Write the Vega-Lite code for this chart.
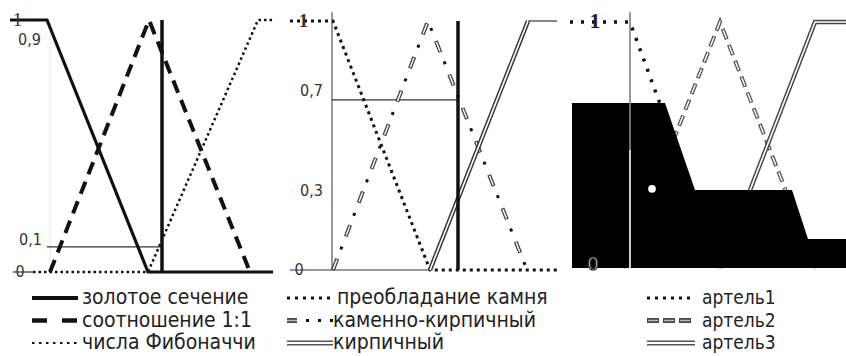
{
"$schema": "https://vega.github.io/schema/vega-lite/v6.json",
"padding": 0,
"autosize": {"type": "pad"},
"spacing": 0,
"config": {"view": {"stroke": null}, "concat": {"spacing": 0}},
"datasets": {
 "curves": [
  {"s": "золотое сечение", "x": 1.0, "y": 1},
  {"s": "золотое сечение", "x": 4.7, "y": 1},
  {"s": "золотое сечение", "x": 14.8, "y": 0},
  {"s": "золотое сечение", "x": 27.3, "y": 0},
  {"s": "соотношение 1:1", "x": 5.0, "y": 0},
  {"s": "соотношение 1:1", "x": 14.9, "y": 1},
  {"s": "соотношение 1:1", "x": 25.0, "y": 0},
  {"s": "числа Фибоначчи", "x": 3.3, "y": 0},
  {"s": "числа Фибоначчи", "x": 14.8, "y": 0},
  {"s": "числа Фибоначчи", "x": 25.8, "y": 1},
  {"s": "числа Фибоначчи", "x": 27.3, "y": 1},
  {"s": "преобладание камня", "x": 1.0, "y": 1},
  {"s": "преобладание камня", "x": 5.3, "y": 1},
  {"s": "преобладание камня", "x": 15.0, "y": 0},
  {"s": "преобладание камня", "x": 27.7, "y": 0},
  {"s": "каменно-кирпичный", "x": 5.3, "y": 0},
  {"s": "каменно-кирпичный", "x": 14.8, "y": 1},
  {"s": "каменно-кирпичный", "x": 24.7, "y": 0},
  {"s": "кирпичный", "x": 15.0, "y": 0},
  {"s": "кирпичный", "x": 24.8, "y": 1},
  {"s": "артель1", "x": 1.0, "y": 1},
  {"s": "артель1", "x": 7.0, "y": 1},
  {"s": "артель1", "x": 16.0, "y": 0},
  {"s": "артель2", "x": 6.3, "y": 0},
  {"s": "артель2", "x": 16.0, "y": 1},
  {"s": "артель2", "x": 25.6, "y": 0},
  {"s": "артель3", "x": 16.0, "y": 0},
  {"s": "артель3", "x": 25.5, "y": 1},
  {"s": "артель3", "x": 28.6, "y": 1},
  {"s": "вывод", "x": 1.2, "y": 0.671},
  {"s": "вывод", "x": 10.5, "y": 0.671},
  {"s": "вывод", "x": 13.5, "y": 0.317},
  {"s": "вывод", "x": 23.2, "y": 0.317},
  {"s": "вывод", "x": 24.8, "y": 0.118},
  {"s": "вывод", "x": 28.6, "y": 0.118}
 ],
 "guides": [
  {"panel": 1, "g": "faint", "x": 5.0, "x2": 5.0, "y": 0, "y2": 1.0},
  {"panel": 1, "g": "thin", "x": 4.7, "x2": 16.2, "y": 0.1, "y2": 0.1},
  {"panel": 1, "g": "thin", "x": 1.3, "x2": 3.3, "y": 0, "y2": 0},
  {"panel": 1, "g": "thick", "x": 16.2, "x2": 16.2, "y": 0, "y2": 1.0},
  {"panel": 2, "g": "axis", "x": 5.2, "x2": 5.2, "y": 0, "y2": 1.035},
  {"panel": 2, "g": "thin", "x": 5.2, "x2": 17.8, "y": 0.683, "y2": 0.683},
  {"panel": 2, "g": "thin", "x": 1.0, "x2": 15.0, "y": 0, "y2": 0},
  {"panel": 2, "g": "thin", "x": 24.8, "x2": 27.7, "y": 1, "y2": 1},
  {"panel": 2, "g": "thick", "x": 17.8, "x2": 17.8, "y": 0, "y2": 1.0},
  {"panel": 3, "g": "axis", "x": 7.0, "x2": 7.0, "y": 0, "y2": 1.04},
  {"panel": 3, "g": "white", "x": 7.0, "x2": 7.0, "y": 0, "y2": 0.48},
  {"panel": 3, "g": "gray", "x": 7.0, "x2": 7.0, "y": 0.48, "y2": 0.671}
 ],
 "labels": [
  {"panel": 1, "k": "one", "t": "1", "x": 1.75, "y": 1.0},
  {"panel": 1, "k": "num", "t": "0,9", "x": 2.95, "y": 0.92},
  {"panel": 1, "k": "num", "t": "0,1", "x": 3.05, "y": 0.127},
  {"panel": 1, "k": "num", "t": "0", "x": 2.0, "y": 0.0},
  {"panel": 2, "k": "one", "t": "1", "x": 2.35, "y": 1.0},
  {"panel": 2, "k": "num", "t": "0,7", "x": 3.15, "y": 0.72},
  {"panel": 2, "k": "num", "t": "0,3", "x": 3.15, "y": 0.317},
  {"panel": 2, "k": "num", "t": "0", "x": 1.9, "y": 0.0},
  {"panel": 3, "k": "one", "t": "1", "x": 3.5, "y": 1.0},
  {"panel": 3, "k": "zero", "t": "0", "x": 3.3, "y": 0.012}
 ],
 "dots": [
  {"panel": 3, "x": 9.2, "y": 0.322}
 ],
 "legendSymbols": [
  {"s": "золотое сечение", "part": "line", "row": 0, "x": 3.2, "x2": 7.8},
  {"s": "соотношение 1:1", "part": "line", "row": 1, "x": 3.2, "x2": 7.8},
  {"s": "числа Фибоначчи", "part": "line", "row": 2, "x": 3.2, "x2": 7.8},
  {"s": "преобладание камня", "part": "line", "row": 0, "x": 0.7, "x2": 5.2},
  {"s": "каменно-кирпичный", "part": "dash", "row": 1, "x": 0.7, "x2": 1.7},
  {"s": "каменно-кирпичный", "part": "dots", "row": 1, "x": 2.6, "x2": 5.3},
  {"s": "кирпичный", "part": "line", "row": 2, "x": 0.7, "x2": 5.3},
  {"s": "артель1", "part": "line", "row": 0, "x": 8.7, "x2": 13.3},
  {"s": "артель2", "part": "line", "row": 1, "x": 8.7, "x2": 13.5},
  {"s": "артель3", "part": "line", "row": 2, "x": 8.7, "x2": 13.5}
 ],
 "legendLabels": [
  {"panel": 1, "row": 0, "x": 8.2, "t": "золотое сечение"},
  {"panel": 1, "row": 1, "x": 8.2, "t": "соотношение 1:1"},
  {"panel": 1, "row": 2, "x": 8.2, "t": "числа Фибоначчи"},
  {"panel": 2, "row": 0, "x": 5.7, "t": "преобладание камня"},
  {"panel": 2, "row": 1, "x": 5.3, "t": "каменно-кирпичный"},
  {"panel": 2, "row": 2, "x": 5.3, "t": "кирпичный"},
  {"panel": 3, "row": 0, "x": 14.2, "t": "артель1"},
  {"panel": 3, "row": 1, "x": 14.2, "t": "артель2"},
  {"panel": 3, "row": 2, "x": 14.2, "t": "артель3"}
 ]
},
"vconcat": [
 {
  "spacing": 0,
  "bounds": "flush",
  "hconcat": [
   {
    "width": 280, "height": 280,
    "encoding": {
     "x": {"field": "x", "type": "quantitative", "scale": {"domain": [0, 28], "nice": false, "zero": false}, "axis": null},
     "y": {"field": "y", "type": "quantitative", "scale": {"domain": [-0.0317, 1.0794], "nice": false, "zero": false}, "axis": null}
    },
    "layer": [
     {"data": {"name": "guides"}, "transform": [{"filter": "datum.panel === 1 && datum.g === 'faint'"}], "mark": {"type": "rule", "stroke": "#e6e6e6", "strokeWidth": 1}, "encoding": {"x2": {"field": "x2"}, "y2": {"field": "y2"}}},
     {"data": {"name": "guides"}, "transform": [{"filter": "datum.panel === 1 && datum.g === 'thin'"}], "mark": {"type": "rule", "stroke": "#333", "strokeWidth": 1.2}, "encoding": {"x2": {"field": "x2"}, "y2": {"field": "y2"}}},
     {"data": {"name": "curves"}, "transform": [{"filter": "datum.s === 'числа Фибоначчи'"}], "mark": {"type": "line", "stroke": "#111", "strokeWidth": 2.5, "strokeDash": [2.5, 3]}},
     {"data": {"name": "curves"}, "transform": [{"filter": "datum.s === 'соотношение 1:1'"}], "mark": {"type": "line", "stroke": "#111", "strokeWidth": 4, "strokeDash": [13, 8]}},
     {"data": {"name": "curves"}, "transform": [{"filter": "datum.s === 'золотое сечение'"}], "mark": {"type": "line", "stroke": "#111", "strokeWidth": 3.2}},
     {"data": {"name": "guides"}, "transform": [{"filter": "datum.panel === 1 && datum.g === 'thick'"}], "mark": {"type": "rule", "stroke": "#111", "strokeWidth": 3.5}, "encoding": {"x2": {"field": "x2"}, "y2": {"field": "y2"}}},
     {"data": {"name": "labels"}, "transform": [{"filter": "datum.panel === 1 && datum.k === 'num'"}], "mark": {"type": "text", "font": "DejaVu Sans Condensed", "fontSize": 16, "fill": "#333", "align": "center", "baseline": "middle"}, "encoding": {"text": {"field": "t", "type": "nominal"}}},
     {"data": {"name": "labels"}, "transform": [{"filter": "datum.panel === 1 && datum.k === 'one'"}], "mark": {"type": "text", "font": "Liberation Serif", "fontSize": 19, "fill": "#333", "align": "center", "baseline": "middle"}, "encoding": {"text": {"field": "t", "type": "nominal"}}}
    ]
   },
   {
    "width": 280, "height": 280,
    "encoding": {
     "x": {"field": "x", "type": "quantitative", "scale": {"domain": [0, 28], "nice": false, "zero": false}, "axis": null},
     "y": {"field": "y", "type": "quantitative", "scale": {"domain": [-0.0402, 1.0843], "nice": false, "zero": false}, "axis": null}
    },
    "layer": [
     {"data": {"name": "guides"}, "transform": [{"filter": "datum.panel === 2 && datum.g === 'axis'"}], "mark": {"type": "rule", "stroke": "#555", "strokeWidth": 1.2}, "encoding": {"x2": {"field": "x2"}, "y2": {"field": "y2"}}},
     {"data": {"name": "guides"}, "transform": [{"filter": "datum.panel === 2 && datum.g === 'thin'"}], "mark": {"type": "rule", "stroke": "#333", "strokeWidth": 1.2}, "encoding": {"x2": {"field": "x2"}, "y2": {"field": "y2"}}},
     {"data": {"name": "curves"}, "transform": [{"filter": "datum.s === 'преобладание камня'"}], "mark": {"type": "line", "stroke": "#111", "strokeWidth": 3, "strokeDash": [3, 4]}},
     {"data": {"name": "curves"}, "transform": [{"filter": "datum.s === 'каменно-кирпичный'"}], "mark": {"type": "line", "stroke": "#444", "strokeWidth": 4, "strokeDash": [12, 24]}},
     {"data": {"name": "curves"}, "transform": [{"filter": "datum.s === 'каменно-кирпичный'"}], "mark": {"type": "line", "stroke": "#fff", "strokeWidth": 1.4, "strokeDash": [10, 26], "strokeDashOffset": -1}},
     {"data": {"name": "curves"}, "transform": [{"filter": "datum.s === 'каменно-кирпичный'"}], "mark": {"type": "line", "stroke": "#111", "strokeWidth": 3, "strokeDash": [3, 33], "strokeDashOffset": 14}},
     {"data": {"name": "curves"}, "transform": [{"filter": "datum.s === 'кирпичный'"}], "mark": {"type": "line", "stroke": "#333", "strokeWidth": 4.5}},
     {"data": {"name": "curves"}, "transform": [{"filter": "datum.s === 'кирпичный'"}], "mark": {"type": "line", "stroke": "#fff", "strokeWidth": 1.6}},
     {"data": {"name": "guides"}, "transform": [{"filter": "datum.panel === 2 && datum.g === 'thick'"}], "mark": {"type": "rule", "stroke": "#111", "strokeWidth": 3.5}, "encoding": {"x2": {"field": "x2"}, "y2": {"field": "y2"}}},
     {"data": {"name": "labels"}, "transform": [{"filter": "datum.panel === 2 && datum.k === 'num'"}], "mark": {"type": "text", "font": "DejaVu Sans Condensed", "fontSize": 16, "fill": "#333", "align": "center", "baseline": "middle"}, "encoding": {"text": {"field": "t", "type": "nominal"}}},
     {"data": {"name": "labels"}, "transform": [{"filter": "datum.panel === 2 && datum.k === 'one'"}], "mark": {"type": "text", "font": "Liberation Serif", "fontSize": 19, "fontWeight": "bold", "fill": "#333", "align": "center", "baseline": "middle"}, "encoding": {"text": {"field": "t", "type": "nominal"}}}
    ]
   },
   {
    "width": 286, "height": 280,
    "encoding": {
     "x": {"field": "x", "type": "quantitative", "scale": {"domain": [0, 28.6], "nice": false, "zero": false}, "axis": null},
     "y": {"field": "y", "type": "quantitative", "scale": {"domain": [-0.0488, 1.0894], "nice": false, "zero": false}, "axis": null}
    },
    "layer": [
     {"data": {"name": "guides"}, "transform": [{"filter": "datum.panel === 3 && datum.g === 'axis'"}], "mark": {"type": "rule", "stroke": "#555", "strokeWidth": 1.2}, "encoding": {"x2": {"field": "x2"}, "y2": {"field": "y2"}}},
     {"data": {"name": "curves"}, "transform": [{"filter": "datum.s === 'артель1'"}], "mark": {"type": "line", "stroke": "#111", "strokeWidth": 3.5, "strokeDash": [3, 8]}},
     {"data": {"name": "curves"}, "transform": [{"filter": "datum.s === 'артель2'"}], "mark": {"type": "line", "stroke": "#555", "strokeWidth": 4, "strokeDash": [11, 6]}},
     {"data": {"name": "curves"}, "transform": [{"filter": "datum.s === 'артель2'"}], "mark": {"type": "line", "stroke": "#fff", "strokeWidth": 1.4, "strokeDash": [9, 8], "strokeDashOffset": -1}},
     {"data": {"name": "curves"}, "transform": [{"filter": "datum.s === 'артель3'"}], "mark": {"type": "line", "stroke": "#444", "strokeWidth": 4.5}},
     {"data": {"name": "curves"}, "transform": [{"filter": "datum.s === 'артель3'"}], "mark": {"type": "line", "stroke": "#fff", "strokeWidth": 1.6}},
     {"data": {"name": "curves"}, "transform": [{"filter": "datum.s === 'вывод'"}], "mark": {"type": "area", "fill": "#000", "interpolate": "linear"}},
     {"data": {"name": "guides"}, "transform": [{"filter": "datum.panel === 3 && datum.g === 'white'"}], "mark": {"type": "rule", "stroke": "#fff", "strokeWidth": 1.6}, "encoding": {"x2": {"field": "x2"}, "y2": {"field": "y2"}}},
     {"data": {"name": "guides"}, "transform": [{"filter": "datum.panel === 3 && datum.g === 'gray'"}], "mark": {"type": "rule", "stroke": "#888", "strokeWidth": 1.6}, "encoding": {"x2": {"field": "x2"}, "y2": {"field": "y2"}}},
     {"data": {"name": "dots"}, "mark": {"type": "point", "filled": true, "fill": "#fff", "stroke": null, "size": 60, "shape": "circle", "opacity": 1}},
     {"data": {"name": "labels"}, "transform": [{"filter": "datum.panel === 3 && datum.k === 'one'"}], "mark": {"type": "text", "font": "Liberation Serif", "fontSize": 21, "fontWeight": "bold", "fill": "#222", "align": "center", "baseline": "middle"}, "encoding": {"text": {"field": "t", "type": "nominal"}}},
     {"data": {"name": "labels"}, "transform": [{"filter": "datum.panel === 3 && datum.k === 'zero'"}], "mark": {"type": "text", "font": "DejaVu Sans", "fontSize": 18, "fill": "#fff", "stroke": "#222", "strokeWidth": 1, "align": "center", "baseline": "middle"}, "encoding": {"text": {"field": "t", "type": "nominal"}}}
    ]
   }
  ]
 },
 {
  "spacing": 0,
  "bounds": "flush",
  "hconcat": [
   {
    "width": 280, "height": 76,
    "encoding": {
     "x": {"field": "x", "type": "quantitative", "scale": {"domain": [0, 28], "nice": false, "zero": false}, "axis": null},
     "y": {"field": "row", "type": "quantitative", "scale": {"domain": [-0.756, 2.622], "reverse": true, "nice": false, "zero": false}, "axis": null}
    },
    "layer": [
     {"data": {"name": "legendSymbols"}, "transform": [{"filter": "datum.s === 'золотое сечение'"}], "mark": {"type": "rule", "stroke": "#111", "strokeWidth": 4}, "encoding": {"x2": {"field": "x2"}}},
     {"data": {"name": "legendSymbols"}, "transform": [{"filter": "datum.s === 'соотношение 1:1'"}], "mark": {"type": "rule", "stroke": "#111", "strokeWidth": 4.5, "strokeDash": [15, 15]}, "encoding": {"x2": {"field": "x2"}}},
     {"data": {"name": "legendSymbols"}, "transform": [{"filter": "datum.s === 'числа Фибоначчи'"}], "mark": {"type": "rule", "stroke": "#111", "strokeWidth": 2, "strokeDash": [2.5, 4.5]}, "encoding": {"x2": {"field": "x2"}}},
     {"data": {"name": "legendLabels"}, "transform": [{"filter": "datum.panel === 1"}], "mark": {"type": "text", "font": "DejaVu Sans Condensed", "fontSize": 21, "fill": "#222", "align": "left", "baseline": "middle"}, "encoding": {"text": {"field": "t", "type": "nominal"}}}
    ]
   },
   {
    "width": 280, "height": 76,
    "encoding": {
     "x": {"field": "x", "type": "quantitative", "scale": {"domain": [0, 28], "nice": false, "zero": false}, "axis": null},
     "y": {"field": "row", "type": "quantitative", "scale": {"domain": [-0.756, 2.622], "reverse": true, "nice": false, "zero": false}, "axis": null}
    },
    "layer": [
     {"data": {"name": "legendSymbols"}, "transform": [{"filter": "datum.s === 'преобладание камня'"}], "mark": {"type": "rule", "stroke": "#111", "strokeWidth": 3, "strokeDash": [3, 5]}, "encoding": {"x2": {"field": "x2"}}},
     {"data": {"name": "legendSymbols"}, "transform": [{"filter": "datum.s === 'каменно-кирпичный' && datum.part === 'dash'"}], "mark": {"type": "rule", "stroke": "#444", "strokeWidth": 5}, "encoding": {"x2": {"field": "x2"}}},
     {"data": {"name": "legendSymbols"}, "transform": [{"filter": "datum.s === 'каменно-кирпичный' && datum.part === 'dash'"}], "mark": {"type": "rule", "stroke": "#bbb", "strokeWidth": 1.5}, "encoding": {"x2": {"field": "x2"}}},
     {"data": {"name": "legendSymbols"}, "transform": [{"filter": "datum.s === 'каменно-кирпичный' && datum.part === 'dots'"}], "mark": {"type": "rule", "stroke": "#111", "strokeWidth": 3, "strokeDash": [3, 9]}, "encoding": {"x2": {"field": "x2"}}},
     {"data": {"name": "legendSymbols"}, "transform": [{"filter": "datum.s === 'кирпичный'"}], "mark": {"type": "rule", "stroke": "#555", "strokeWidth": 5}, "encoding": {"x2": {"field": "x2"}}},
     {"data": {"name": "legendSymbols"}, "transform": [{"filter": "datum.s === 'кирпичный'"}], "mark": {"type": "rule", "stroke": "#fff", "strokeWidth": 1.8}, "encoding": {"x2": {"field": "x2"}}},
     {"data": {"name": "legendLabels"}, "transform": [{"filter": "datum.panel === 2"}], "mark": {"type": "text", "font": "DejaVu Sans Condensed", "fontSize": 21, "fill": "#222", "align": "left", "baseline": "middle"}, "encoding": {"text": {"field": "t", "type": "nominal"}}}
    ]
   },
   {
    "width": 286, "height": 76,
    "encoding": {
     "x": {"field": "x", "type": "quantitative", "scale": {"domain": [0, 28.6], "nice": false, "zero": false}, "axis": null},
     "y": {"field": "row", "type": "quantitative", "scale": {"domain": [-0.756, 2.622], "reverse": true, "nice": false, "zero": false}, "axis": null}
    },
    "layer": [
     {"data": {"name": "legendSymbols"}, "transform": [{"filter": "datum.s === 'артель1'"}], "mark": {"type": "rule", "stroke": "#111", "strokeWidth": 3, "strokeDash": [3, 5]}, "encoding": {"x2": {"field": "x2"}}},
     {"data": {"name": "legendSymbols"}, "transform": [{"filter": "datum.s === 'артель2'"}], "mark": {"type": "rule", "stroke": "#444", "strokeWidth": 5, "strokeDash": [12, 4]}, "encoding": {"x2": {"field": "x2"}}},
     {"data": {"name": "legendSymbols"}, "transform": [{"filter": "datum.s === 'артель2'"}], "mark": {"type": "rule", "stroke": "#bbb", "strokeWidth": 1.5, "strokeDash": [10, 6], "strokeDashOffset": -1}, "encoding": {"x2": {"field": "x2"}}},
     {"data": {"name": "legendSymbols"}, "transform": [{"filter": "datum.s === 'артель3'"}], "mark": {"type": "rule", "stroke": "#555", "strokeWidth": 5}, "encoding": {"x2": {"field": "x2"}}},
     {"data": {"name": "legendSymbols"}, "transform": [{"filter": "datum.s === 'артель3'"}], "mark": {"type": "rule", "stroke": "#fff", "strokeWidth": 1.8}, "encoding": {"x2": {"field": "x2"}}},
     {"data": {"name": "legendLabels"}, "transform": [{"filter": "datum.panel === 3"}], "mark": {"type": "text", "font": "DejaVu Sans Condensed", "fontSize": 19, "fill": "#222", "align": "left", "baseline": "middle"}, "encoding": {"text": {"field": "t", "type": "nominal"}}}
    ]
   }
  ]
 }
]
}
